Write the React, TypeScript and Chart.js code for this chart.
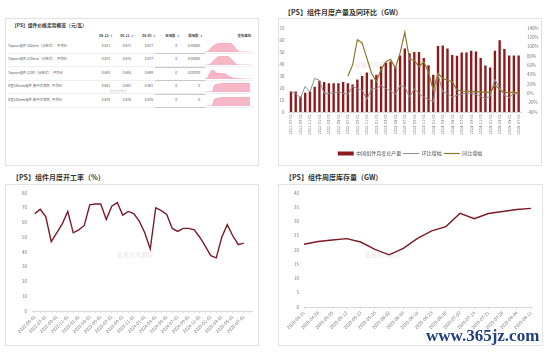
import React, { useEffect, useRef } from "react";
import { Chart, registerables } from "chart.js";
Chart.register(...registerables);

const FONT = '"Noto Sans CJK SC", "Noto Sans", sans-serif';

// ---------- Top-left table ----------
const tableHeaders = ["08-12", "08-11", "08-05", "日涨跌", "周涨跌"];
const tableRows = [
  "Topcon组件-182mm（分布式）- 平均价",
  "Topcon组件-210mm（分布式）- 平均价",
  "Topcon组件-210R（分布式）- 平均价",
  "N型182mm组件-集中式项目 - 平均价",
  "N型210mm组件-集中式项目 - 平均价",
];
const priceLatest = [0.671, 0.675, 0.692, 0.681, 0.676];
const pricePrevDay = [0.671, 0.675, 0.692, 0.681, 0.676];
const pricePrevWeek = [0.677, 0.677, 0.699, 0.681, 0.676];
const dayChange = ["0", "0", "0", "0", "0"];
const weekChange = ["-0.00600", "-0.00200", "-0.00700", "0", "0"];
const spark1 = [0.668, 0.672, 0.685, 0.7, 0.712, 0.72, 0.724, 0.726, 0.727, 0.727, 0.726, 0.722, 0.71, 0.69, 0.675, 0.669, 0.668, 0.668, 0.668, 0.668];
const spark2 = [0.668, 0.668, 0.672, 0.685, 0.7, 0.715, 0.722, 0.725, 0.726, 0.726, 0.72, 0.705, 0.69, 0.675, 0.669, 0.668, 0.668, 0.668, 0.668, 0.668];
const spark3 = [0.682, 0.69, 0.715, 0.738, 0.73, 0.718, 0.716, 0.716, 0.714, 0.71, 0.7, 0.692, 0.688, 0.686, 0.684, 0.683, 0.682, 0.682, 0.682, 0.682];
const spark4 = [0.6, 0.6, 0.6, 0.6, 0.66, 0.668, 0.672, 0.675, 0.677, 0.678, 0.679, 0.68, 0.681, 0.681, 0.681, 0.681, 0.681, 0.681, 0.681, 0.681];
const spark5 = [0.6, 0.6, 0.6, 0.6, 0.655, 0.664, 0.668, 0.671, 0.673, 0.674, 0.675, 0.676, 0.676, 0.676, 0.676, 0.676, 0.676, 0.676, 0.676, 0.676];
const sparks = [spark1, spark2, spark3, spark4, spark5];

// ---------- Top-right: monthly output ----------
const prodMonths = [
  "2021-07-01", "2021-08-01", "2021-09-01", "2021-10-01", "2021-11-01", "2021-12-01",
  "2022-01-01", "2022-02-01", "2022-03-01", "2022-04-01", "2022-05-01", "2022-06-01",
  "2022-07-01", "2022-08-01", "2022-09-01", "2022-10-01", "2022-11-01", "2022-12-01",
  "2023-01-01", "2023-02-01", "2023-03-01", "2023-04-01", "2023-05-01", "2023-06-01",
  "2023-07-01", "2023-08-01", "2023-09-01", "2023-10-01", "2023-11-01", "2023-12-01",
  "2024-01-01", "2024-02-01", "2024-03-01", "2024-04-01", "2024-05-01", "2024-06-01",
  "2024-07-01", "2024-08-01", "2024-09-01", "2024-10-01", "2024-11-01", "2024-12-01",
  "2025-01-01", "2025-02-01", "2025-03-01", "2025-04-01", "2025-05-01", "2025-06-01",
  "2025-07-01",
];
const prodOutput = [17, 17, 13, 16, 17, 21, 26, 25, 24, 24, 24, 25, 24, 23, 27, 30, 33, 27, 31, 38, 41, 42, 38, 47, 53, 49, 50, 50, 45, 39, 31, 55, 55.5, 53, 47.6, 46.8, 49.6, 49.6, 51, 50.4, 45, 38.7, 37, 51, 59.7, 52.4, 47, 47, 47];
const prodMoM = [3, 0, -10, 15, 3, 32, 28, 0, 0, 1, 3, 0, -2, 15, 10, 7, -13, 10, 10, 17, 10, 5, -2, 17, 14, -8, 10, 0, -8, -13, -18, 40, 3, 0, -8, -4, -2, 1, 0, -2, -6, -11, -6, 30, 10, -4, -9, 0, -2];
const prodYoY = [null, null, null, null, null, null, null, null, null, null, null, null, 37, 61, 115, 108, 75, 43, 25, 51, 68, 73, 54, 86, 131, 73, 71, 57, 68, 45, 7, 43, 32, 28, 25, 7, 5, 4, 4, 3, 3, 2, 2, 18, 8, 3, 1, 3, 0];

// ---------- Bottom-left: operating rate ----------
const rateMonths = [
  "2022-05-01", "2022-06-01", "2022-07-01", "2022-08-01", "2022-09-01", "2022-10-01",
  "2022-11-01", "2022-12-01", "2023-01-01", "2023-02-01", "2023-03-01", "2023-04-01",
  "2023-05-01", "2023-06-01", "2023-07-01", "2023-08-01", "2023-09-01", "2023-10-01",
  "2023-11-01", "2023-12-01", "2024-01-01", "2024-02-01", "2024-03-01", "2024-04-01",
  "2024-05-01", "2024-06-01", "2024-07-01", "2024-08-01", "2024-09-01", "2024-10-01",
  "2024-11-01", "2024-12-01", "2025-01-01", "2025-02-01", "2025-03-01", "2025-04-01",
  "2025-05-01", "2025-06-01", "2025-07-01", "2025-08-01",
];
const rateValues = [66, 69, 64, 47, 53, 59, 67.5, 53, 55, 58, 72, 72.5, 72.5, 62, 71, 73.5, 65, 67.5, 66, 61, 53, 42, 70, 68, 65.5, 56, 54, 56, 56, 55, 50, 44, 37.5, 36, 50, 58.5, 51, 45, 46, null];

// ---------- Bottom-right: weekly inventory ----------
const invWeeks = [
  "2025-04-21", "2025-04-28", "2025-05-05", "2025-05-12", "2025-05-19", "2025-05-26",
  "2025-06-02", "2025-06-09", "2025-06-16", "2025-06-23", "2025-06-30", "2025-07-07",
  "2025-07-14", "2025-07-21", "2025-07-28", "2025-08-04", "2025-08-11",
];
const invValues = [22, 23, 23.5, 24, 22.8, 20.2, 18.3, 20.6, 24.1, 26.7, 28.2, 32.9, 31, 32.8, 33.5, 34.2, 34.6];

const TICK = "#777";
const AXIS = "#d9d9d9";

function ChartCanvas(props: { config: any; left: number; top: number; width: number; height: number }) {
  const ref = useRef<HTMLCanvasElement>(null);
  useEffect(() => {
    const chart = new Chart(ref.current as HTMLCanvasElement, props.config);
    return () => chart.destroy();
  }, []);
  return (
    <canvas
      ref={ref}
      width={props.width}
      height={props.height}
      style={{ position: "absolute", left: props.left, top: props.top, width: props.width, height: props.height }}
    />
  );
}

function sparkConfig(data: number[]) {
  return {
    type: "line",
    data: {
      labels: data.map((_, i) => String(i)),
      datasets: [
        {
          data,
          fill: "start",
          borderColor: "#f2a2b6",
          backgroundColor: "#f6b7c6",
          borderWidth: 0.8,
          pointRadius: 0,
          tension: 0.3,
        },
      ],
    },
    options: {
      responsive: false,
      animation: false,
      devicePixelRatio: 1,
      layout: { padding: 0 },
      plugins: { legend: { display: false }, tooltip: { enabled: false } },
      scales: {
        x: { display: true, grid: { display: false, drawTicks: false }, ticks: { display: false }, border: { color: "#aaa", width: 0.6 } },
        y: { display: false, min: Math.min(...data), max: Math.max(...data) },
      },
    },
  };
}

const prodConfig = {
  type: "bar",
  data: {
    labels: prodMonths,
    datasets: [
      {
        type: "bar",
        label: "中国组件月度总产量",
        data: prodOutput,
        backgroundColor: "#8e1a1c",
        yAxisID: "y",
        order: 2,
        barPercentage: 0.5,
        categoryPercentage: 1,
        pointStyle: "rect",
      },
      {
        type: "line",
        label: "环比增幅",
        data: prodMoM,
        borderColor: "#8e8e8e",
        borderWidth: 1,
        pointRadius: 0,
        yAxisID: "y1",
        order: 1,
        pointStyle: "line",
      },
      {
        type: "line",
        label: "同比增幅",
        data: prodYoY,
        borderColor: "#8a7a2a",
        borderWidth: 1.2,
        pointRadius: 0,
        yAxisID: "y1",
        order: 0,
        pointStyle: "line",
      },
    ],
  },
  options: {
    responsive: false,
    animation: false,
    devicePixelRatio: 1,
    layout: { padding: { top: 9, left: 0, right: 0, bottom: 0 } },
    plugins: {
      tooltip: { enabled: false },
      legend: {
        position: "bottom",
        labels: {
          usePointStyle: true,
          pointStyleWidth: 16,
          boxHeight: 4,
          padding: 2,
          color: "#555",
          font: { size: 5, family: FONT },
          sort: (a: any, b: any) => a.datasetIndex - b.datasetIndex,
        },
      },
    },
    scales: {
      x: {
        grid: { display: false, drawTicks: false },
        border: { display: true, color: AXIS },
        ticks: {
          autoSkip: false,
          maxRotation: 90,
          minRotation: 90,
          padding: 2,
          color: TICK,
          font: { size: 4, family: FONT },
          callback: (_v: any, i: number) => (i % 2 === 0 ? prodMonths[i] : ""),
        },
        afterFit: (s: any) => {
          s.height = 37;
        },
      },
      y: {
        position: "left",
        min: 0,
        max: 70,
        grid: { display: false, drawTicks: false },
        border: { display: false },
        ticks: { stepSize: 10, padding: 4, color: TICK, font: { size: 4.5, family: FONT } },
        afterFit: (s: any) => {
          s.width = 9.6;
        },
      },
      y1: {
        position: "right",
        min: -40,
        max: 140,
        grid: { display: false, drawTicks: false },
        border: { display: false },
        ticks: { stepSize: 20, padding: 6, color: TICK, font: { size: 4.5, family: FONT }, callback: (v: any) => v + "%" },
        afterFit: (s: any) => {
          s.width = 20;
        },
      },
    },
  },
};

const rateConfig = {
  type: "line",
  data: {
    labels: rateMonths,
    datasets: [
      { label: "开工率", data: rateValues, borderColor: "#7c1a26", borderWidth: 1.4, pointRadius: 0, tension: 0 },
    ],
  },
  options: {
    responsive: false,
    animation: false,
    devicePixelRatio: 1,
    layout: { padding: { top: 8, right: 6, left: 0, bottom: 0 } },
    plugins: { legend: { display: false }, tooltip: { enabled: false } },
    scales: {
      x: {
        offset: true,
        grid: { display: true, drawOnChartArea: false, tickLength: 2, color: AXIS },
        border: { color: AXIS },
        ticks: {
          autoSkip: false,
          maxRotation: 45,
          minRotation: 45,
          padding: 1,
          color: TICK,
          font: { size: 4.5, family: FONT },
          callback: (_v: any, i: number) => (i % 2 === 0 && i < 39 ? rateMonths[i] : ""),
        },
        afterFit: (s: any) => {
          s.height = 34;
        },
      },
      y: {
        min: 0,
        max: 80,
        grid: { display: false, drawTicks: false },
        border: { display: false },
        ticks: { stepSize: 10, padding: 5, color: TICK, font: { size: 4.5, family: FONT } },
        afterFit: (s: any) => {
          s.width = 26;
        },
      },
    },
  },
};

const invConfig = {
  type: "line",
  data: {
    labels: invWeeks,
    datasets: [
      { label: "库存", data: invValues, borderColor: "#7c1a26", borderWidth: 1.4, pointRadius: 0, tension: 0 },
    ],
  },
  options: {
    responsive: false,
    animation: false,
    devicePixelRatio: 1,
    layout: { padding: { top: 8, right: 11, left: 0, bottom: 0 } },
    plugins: { legend: { display: false }, tooltip: { enabled: false } },
    scales: {
      x: {
        offset: false,
        grid: { display: true, drawOnChartArea: false, tickLength: 2, color: AXIS },
        border: { color: AXIS },
        ticks: {
          autoSkip: false,
          maxRotation: 45,
          minRotation: 45,
          padding: 1,
          color: TICK,
          font: { size: 4.5, family: FONT },
        },
        afterFit: (s: any) => {
          s.height = 38;
        },
      },
      y: {
        min: 0,
        max: 40,
        grid: { display: false, drawTicks: false },
        border: { display: false },
        ticks: { stepSize: 5, padding: 5, color: TICK, font: { size: 4.5, family: FONT } },
        afterFit: (s: any) => {
          s.width = 25;
        },
      },
    },
  },
};

const box = (left: number, top: number, width: number, height: number): React.CSSProperties => ({
  position: "absolute",
  left,
  top,
  width,
  height,
  border: "1px solid #e2e2e2",
  boxSizing: "border-box",
});

const title = (left: number, top: number, size: number): React.CSSProperties => ({
  position: "absolute",
  left,
  top,
  fontFamily: FONT,
  fontWeight: 700,
  fontSize: size,
  color: "#333",
  whiteSpace: "nowrap",
  lineHeight: 1,
});

const small = (left: number, top: number, size: number, color: string, align: "left" | "right" = "left", width = 0): React.CSSProperties => ({
  position: "absolute",
  left: align === "right" ? left - width : left,
  top,
  width: align === "right" ? width : undefined,
  textAlign: align,
  fontFamily: FONT,
  fontSize: size,
  color,
  whiteSpace: "nowrap",
  lineHeight: 1,
});

const colRight = [110, 131, 153, 177, 200];
const rowY = [45.5, 59, 72.5, 86, 99.5];

const watermark: React.CSSProperties = {
  position: "absolute",
  fontFamily: FONT,
  fontSize: 6,
  color: "rgba(205,150,150,0.3)",
  whiteSpace: "nowrap",
};

export default function App() {
  return (
    <div style={{ position: "fixed", left: 0, top: 0, width: 550, height: 352, background: "#fff", overflow: "hidden" }}>
      {/* Top-left table panel */}
      <div style={box(5, 18, 254, 148)} />
      <div style={title(12, 22.5, 4.8)}>【PS】组件价格走势概览（元/瓦）</div>
      {tableHeaders.map((h, i) => (
        <div key={h} style={{ ...small(colRight[i] + 3, 34, 3.4, "#444", "right", 30), fontWeight: 700 }}>
          {h}
          <span style={{ color: "#5b7fb8", fontSize: 3, marginLeft: 1.5 }}>⇕</span>
        </div>
      ))}
      <div style={{ ...small(251, 34, 3.4, "#444", "right", 30), fontWeight: 700 }}>变化曲线</div>
      {tableRows.map((r, i) => (
        <React.Fragment key={r}>
          <div style={small(8, rowY[i] - 1.7, 3.3, "#555")}>{r}</div>
          <div style={small(colRight[0], rowY[i] - 1.7, 3.3, "#555", "right", 20)}>{priceLatest[i].toFixed(3)}</div>
          <div style={small(colRight[1], rowY[i] - 1.7, 3.3, "#555", "right", 20)}>{pricePrevDay[i].toFixed(3)}</div>
          <div style={small(colRight[2], rowY[i] - 1.7, 3.3, "#555", "right", 20)}>{pricePrevWeek[i].toFixed(3)}</div>
          <div style={small(colRight[3], rowY[i] - 1.7, 3.3, "#555", "right", 20)}>{dayChange[i]}</div>
          <div style={small(colRight[4], rowY[i] - 1.7, 3.3, "#555", "right", 20)}>{weekChange[i]}</div>
          <div style={{ position: "absolute", left: 8, top: rowY[i] + 7, width: 245, height: 0, borderTop: "0.5px solid #f0f0f0" }} />
          <div style={{ position: "absolute", left: 155, top: rowY[i] + 7.5, width: 50, height: 0, borderTop: "0.6px solid #c8c8c8" }} />
          <ChartCanvas config={sparkConfig(sparks[i])} left={205} top={rowY[i] - 3} width={45} height={9} />
        </React.Fragment>
      ))}
      <div style={small(110, 89.5, 2.8, "#c9c9c9")}>紫金天风期货</div>

      {/* Top-right production chart */}
      <div style={box(278, 18, 264, 148)} />
      <div style={title(284, 9, 7)}>【PS】组件月度产量及同环比（GW）</div>
      <div style={{ ...watermark, left: 355, top: 60 }}>紫金天风期货</div>
      <ChartCanvas config={prodConfig} left={279} top={19} width={262} height={147} />

      {/* Bottom-left operating rate */}
      <div style={box(5, 184, 254, 162)} />
      <div style={title(12, 173.5, 7)}>【PS】组件月度开工率（%）</div>
      <div style={{ ...watermark, left: 117, top: 250 }}>紫金天风期货</div>
      <ChartCanvas config={rateConfig} left={6} top={185} width={252} height={160} />

      {/* Bottom-right inventory */}
      <div style={box(278, 184, 265, 162)} />
      <div style={title(285, 173.5, 7)}>【PS】组件周度库存量（GW）</div>
      <div style={{ ...watermark, left: 365, top: 250 }}>紫金天风期货</div>
      <ChartCanvas config={invConfig} left={279} top={185} width={263} height={160} />

      <div
        style={{
          position: "absolute",
          left: 426,
          top: 327,
          fontFamily: '"Liberation Serif", "DejaVu Serif", serif',
          fontWeight: 700,
          fontSize: 17,
          color: "#1f3f80",
          whiteSpace: "nowrap",
          lineHeight: 1,
          textShadow: "0 0 2px #fff, 0 0 2px #fff",
        }}
      >
        www.365jz.com
      </div>
    </div>
  );
}
